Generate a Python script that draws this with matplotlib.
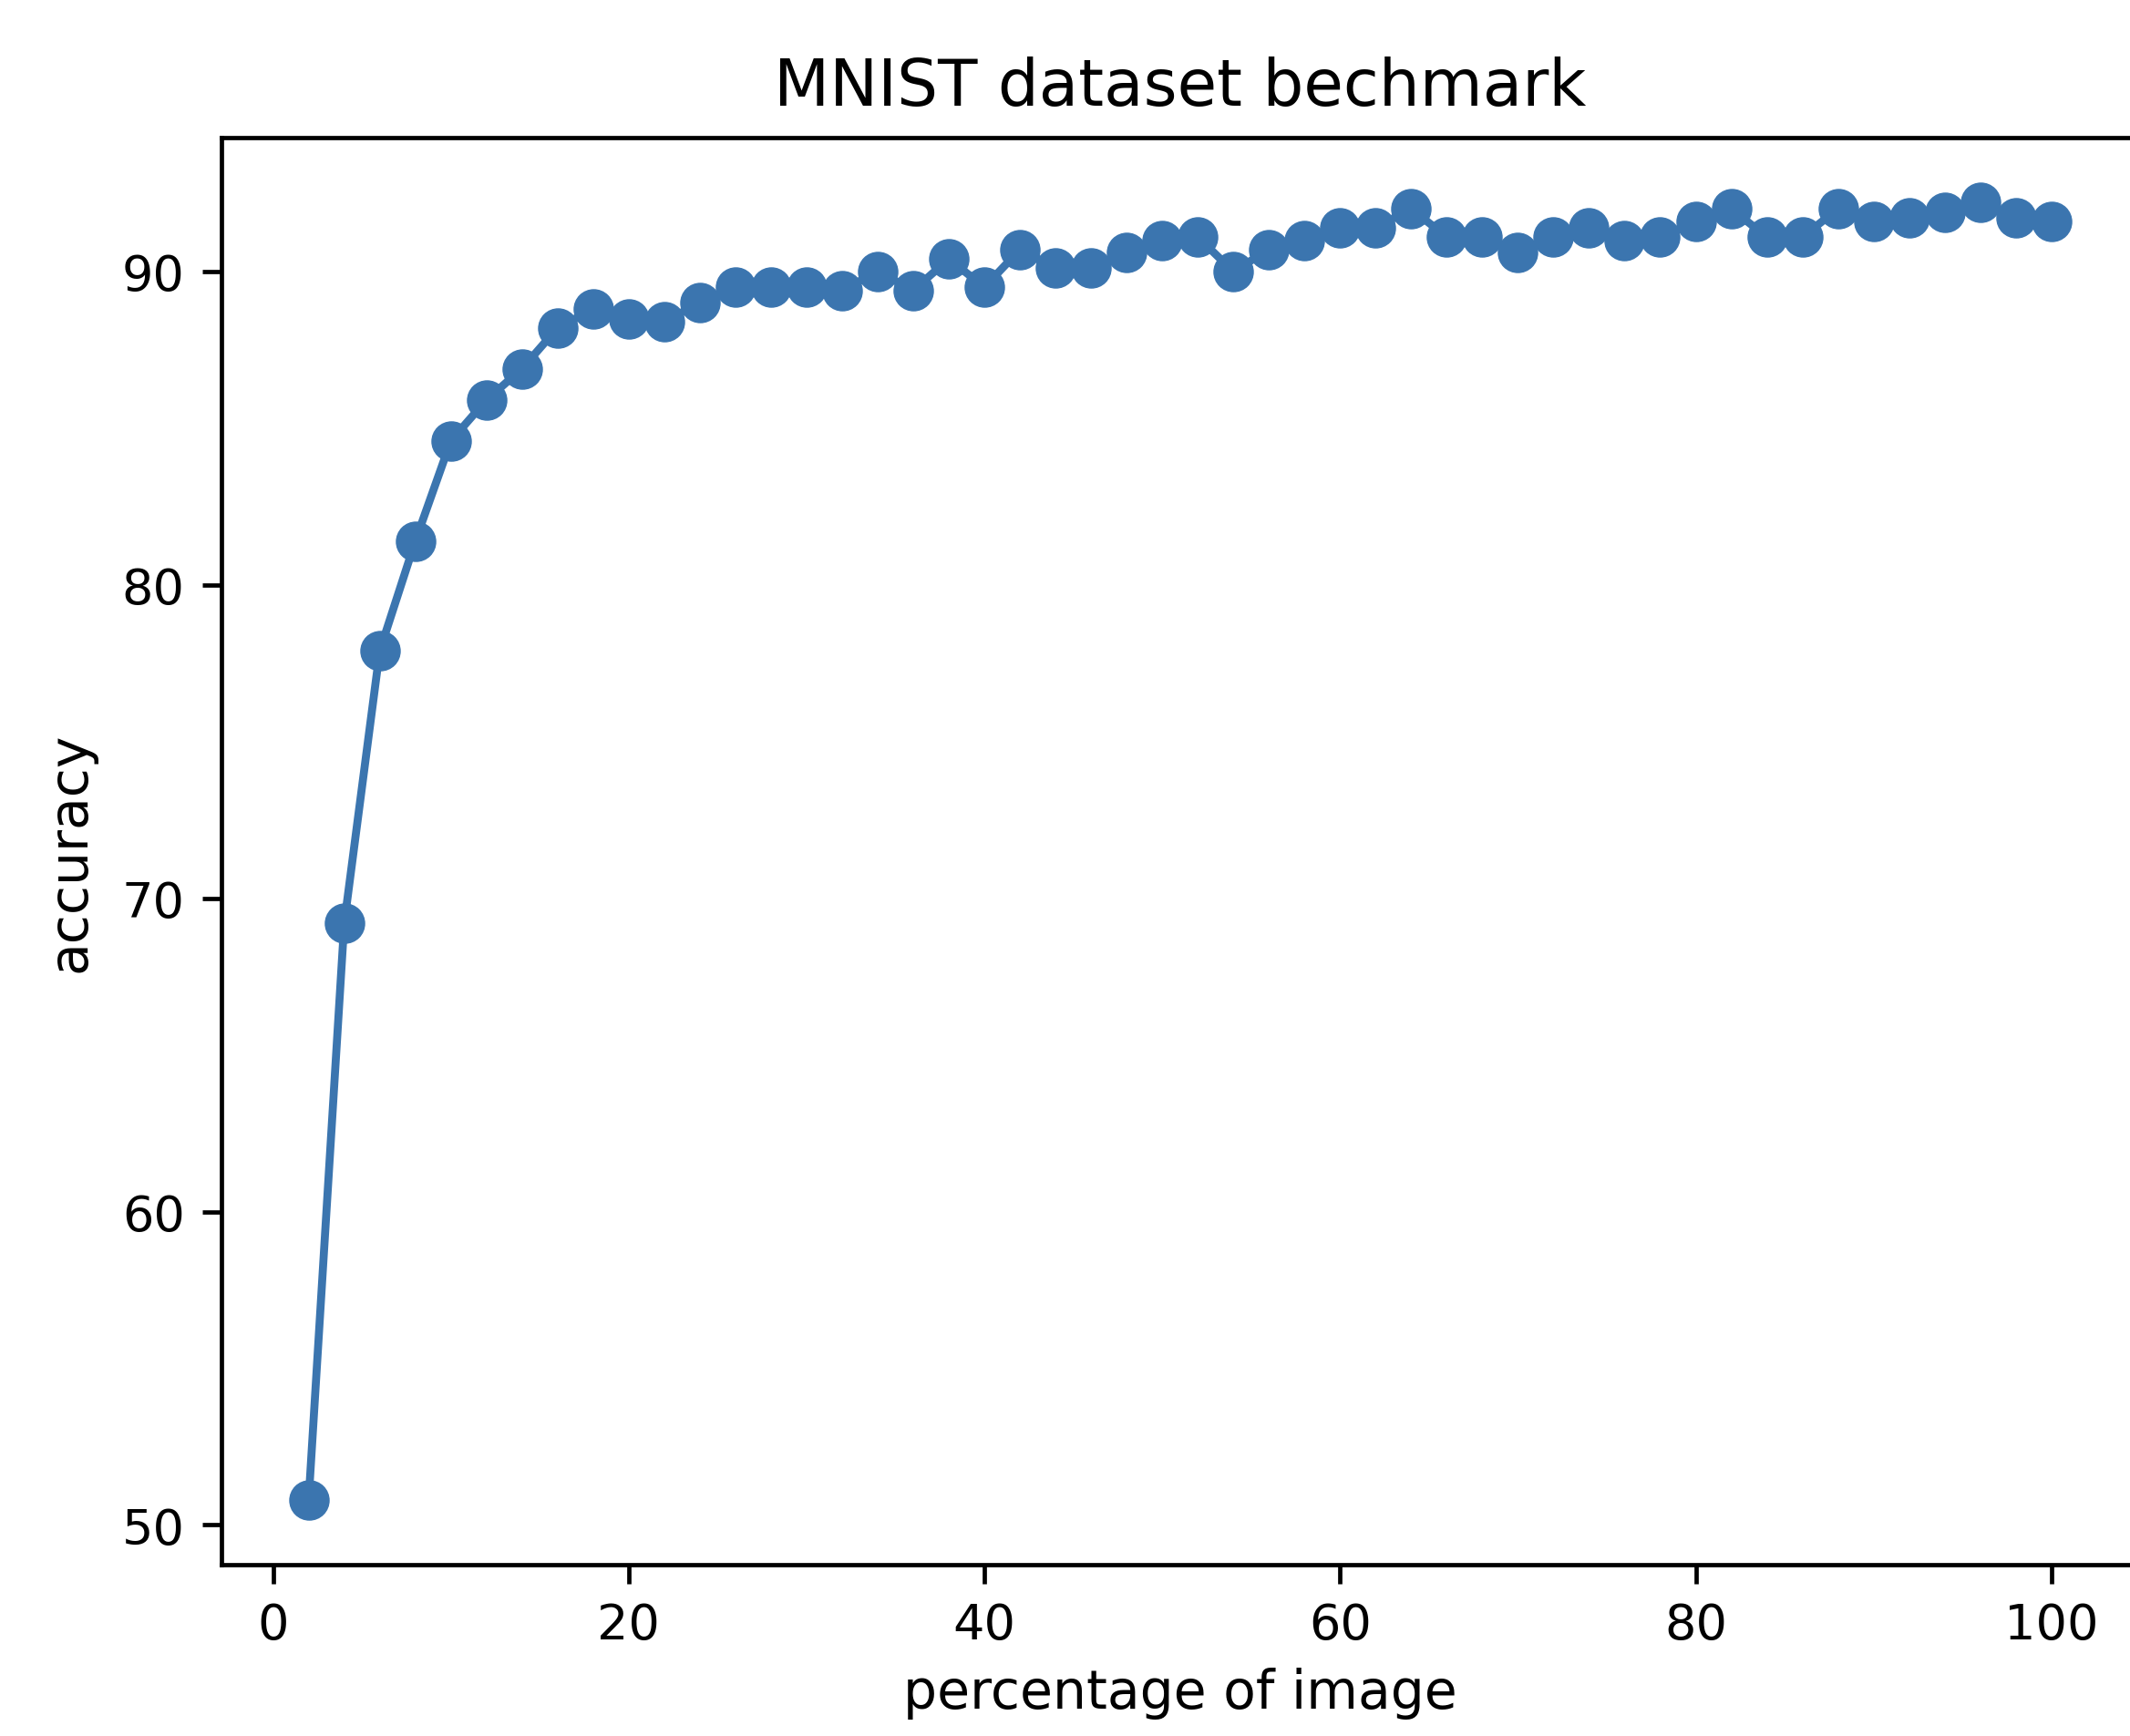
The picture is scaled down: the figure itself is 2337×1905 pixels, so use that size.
import matplotlib
matplotlib.use("Agg")
import matplotlib.pyplot as plt

# percentage of image used vs. accuracy
percent = list(range(2, 101, 2))
accuracy = [50.8, 69.2, 77.9, 81.4, 84.6, 85.9, 86.9, 88.2, 88.8, 88.5,
            88.4, 89.0, 89.5, 89.5, 89.5, 89.4, 90.0, 89.4, 90.4, 89.5,
            90.7, 90.1, 90.1, 90.6, 91.0, 91.1, 90.0, 90.7, 91.0, 91.4,
            91.4, 92.0, 91.1, 91.1, 90.6, 91.1, 91.4, 91.0, 91.1, 91.6,
            92.0, 91.1, 91.1, 92.0, 91.6, 91.7, 91.9, 92.2, 91.7, 91.6]

fig = plt.figure(figsize=(23.37, 19.06), dpi=100)
ax = fig.add_axes([0.104, 0.0986, 0.900, 0.8216])

ax.plot(percent, accuracy, 'o-', color='#3b75af', linewidth=6.3, markersize=31)

ax.set_title('MNIST dataset bechmark', fontsize=51, pad=26)
ax.set_xlabel('percentage of image', fontsize=42, labelpad=14)
ax.set_ylabel('accuracy', fontsize=42, labelpad=20)
ax.set_xticks([0, 20, 40, 60, 80, 100])
ax.set_yticks([50, 60, 70, 80, 90])
ax.tick_params(labelsize=39, length=15, width=3.4, pad=14)
for s in ax.spines.values():
    s.set_linewidth(3.4)

plt.savefig("out.png", dpi=100)
